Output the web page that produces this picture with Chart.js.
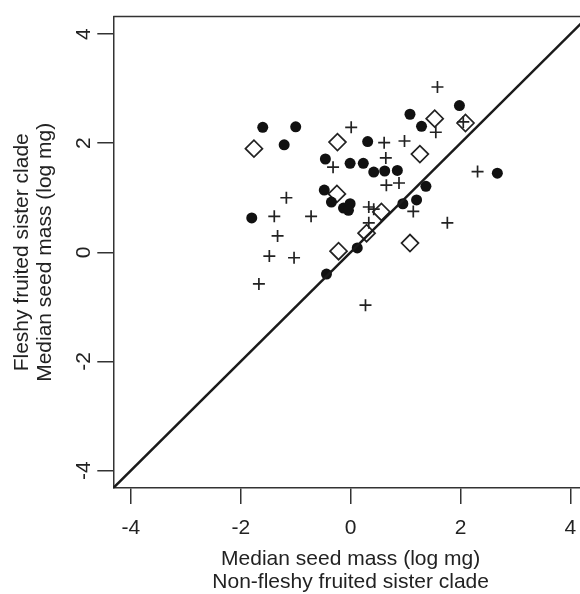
<!DOCTYPE html>
<html>
<head>
    <meta charset="UTF-8">
    <title>seedMassChart</title>
    <script src="https://cdn.jsdelivr.net/npm/chart.js"></script>
    <style>
        html, body { margin: 0; padding: 0; background: #fff; overflow: hidden; }
    </style>
</head>
<body>
    <canvas id="seedChart" width="600" height="594"></canvas>

    <script>
        // axis limits and tick labels
        var axisMin = -4.32;
        var axisMax = 4.32;
        var tickValues = [-4, -2, 0, 2, 4];

        // filled circles
        var solidX = [-1.60, -1.00, -1.21, 1.08, 1.98, 1.29, 0.31, -0.46, -0.01, 0.23, 0.42, 0.62, 0.85,
                      2.67, 1.37, 1.20, -0.48, -0.35, -0.13, -0.01, -0.04, 0.95, -1.80, 0.12, -0.44];
        var solidY = [2.29, 2.30, 1.97, 2.53, 2.69, 2.31, 2.03, 1.71, 1.63, 1.63, 1.47, 1.49, 1.50,
                      1.45, 1.21, 0.96, 1.14, 0.92, 0.81, 0.89, 0.77, 0.89, 0.63, 0.08, -0.40];

        // plus signs
        var crossX = [1.58, 0.01, 0.61, 0.98, 1.55, 2.05, 0.64, -0.32, 0.65, 0.88, 2.31, -1.17,
                      -1.39, -0.72, 0.33, 0.42, 0.33, 1.14, 1.76, -1.33, -1.48, -1.03, -1.67, 0.27];
        var crossY = [3.03, 2.29, 2.01, 2.04, 2.20, 2.39, 1.73, 1.56, 1.23, 1.27, 1.48, 1.00,
                      0.66, 0.66, 0.83, 0.79, 0.54, 0.75, 0.54, 0.30, -0.07, -0.10, -0.58, -0.97];

        // open diamonds
        var diamondX = [-1.76, -0.24, 1.53, 2.09, 1.26, -0.25, 0.56, 0.29, -0.22, 1.08];
        var diamondY = [1.90, 2.02, 2.45, 2.37, 1.80, 1.07, 0.74, 0.35, 0.02, 0.17];

        function toPoints(xs, ys) {
            var pts = [];
            for (var i = 0; i < xs.length; i++) {
                pts.push({ x: xs[i], y: ys[i] });
            }
            return pts;
        }

        var boxPlugin = {
            id: 'box',
            afterDraw: function (chart) {
                var a = chart.chartArea;
                var ctx = chart.ctx;
                ctx.save();
                ctx.strokeStyle = '#333';
                ctx.lineWidth = 1.5;
                ctx.beginPath();
                ctx.moveTo(a.left, a.top);
                ctx.lineTo(a.right, a.top);
                ctx.lineTo(a.right, a.bottom);
                ctx.stroke();
                ctx.restore();
            }
        };

        var font = { family: '"Liberation Sans", Arial, sans-serif', size: 21 };

        var ctx = document.getElementById('seedChart').getContext('2d');
        var chart = new Chart(ctx, {
            type: 'scatter',
            data: {
                datasets: [{
                    type: 'line',
                    data: [{ x: axisMin, y: axisMin }, { x: axisMax, y: axisMax }],
                    borderColor: '#1a1a1a',
                    borderWidth: 2.5,
                    pointRadius: 0,
                    fill: false
                }, {
                    data: toPoints(solidX, solidY),
                    pointStyle: 'circle',
                    pointRadius: 5.5,
                    backgroundColor: '#111',
                    borderWidth: 0
                }, {
                    data: toPoints(crossX, crossY),
                    pointStyle: 'cross',
                    pointRadius: 6,
                    borderColor: '#222',
                    borderWidth: 1.7
                }, {
                    data: toPoints(diamondX, diamondY),
                    pointStyle: 'rectRot',
                    pointRadius: 8.5,
                    backgroundColor: 'rgba(0,0,0,0)',
                    borderColor: '#222',
                    borderWidth: 1.7
                }]
            },
            options: {
                responsive: false,
                animation: false,
                events: [],
                layout: { padding: { top: 14, right: 12, left: 0, bottom: 0 } },
                plugins: {
                    legend: { display: false },
                    tooltip: { enabled: false }
                },
                scales: {
                    x: {
                        type: 'linear',
                        min: axisMin,
                        max: axisMax,
                        afterBuildTicks: function (scale) {
                            scale.ticks = tickValues.map(function (v) { return { value: v }; });
                        },
                        afterFit: function (scale) { scale.height = 106; },
                        grid: { drawOnChartArea: false, tickLength: 16, color: '#333', lineWidth: 1.5 },
                        border: { color: '#333', width: 1.5 },
                        ticks: { color: '#222', font: font, padding: 12, maxRotation: 0 },
                        title: {
                            display: true,
                            text: ['Median seed mass (log mg)', 'Non-fleshy fruited sister clade'],
                            color: '#222',
                            font: { family: font.family, size: 21, lineHeight: 1.12 },
                            padding: { top: 0, bottom: 0 }
                        }
                    },
                    y: {
                        type: 'linear',
                        min: axisMin,
                        max: axisMax,
                        afterBuildTicks: function (scale) {
                            scale.ticks = tickValues.map(function (v) { return { value: v }; });
                        },
                        afterFit: function (scale) { scale.width = 113.3; },
                        grid: { drawOnChartArea: false, tickLength: 16, color: '#333', lineWidth: 1.5 },
                        border: { color: '#333', width: 1.5 },
                        ticks: { color: '#222', font: font, padding: 4, minRotation: 90, maxRotation: 90, crossAlign: 'center' },
                        title: {
                            display: true,
                            text: ['Fleshy fruited sister clade', 'Median seed mass (log mg)'],
                            color: '#222',
                            font: { family: font.family, size: 21, lineHeight: 1.1 },
                            padding: { top: 10.5, bottom: 0 }
                        }
                    }
                }
            },
            plugins: [boxPlugin]
        });
    </script>
</body>
</html>
